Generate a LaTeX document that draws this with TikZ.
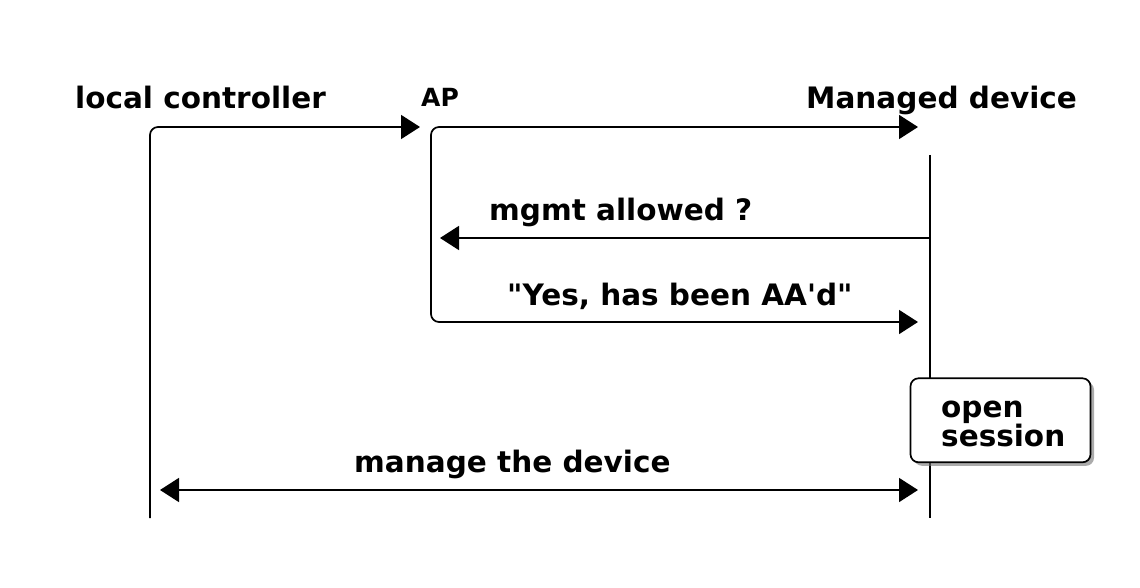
\documentclass[tikz,border=0pt]{standalone}
\usepackage{fontspec}
\newfontfamily\lblfont{DejaVu Sans}
\usetikzlibrary{arrows.meta,shadows}
\tikzset{
  lbl/.style={font=\lblfont\bfseries\fontsize{29.5}{32}\selectfont, inner sep=0pt, anchor=base west},
  smalllbl/.style={font=\lblfont\bfseries\fontsize{25}{28}\selectfont, inner sep=0pt, anchor=base west},
  tip/.tip={Triangle[length=19pt,width=24pt]},
  wire/.style={line width=1.7pt, line join=round},
  msg/.style={wire, -tip},
  msgboth/.style={wire, tip-tip},
  notebox/.style={draw, line width=1.7pt, fill=white, rounded corners=8pt,
    minimum width=180pt, minimum height=84pt, inner sep=0pt,
    drop shadow={shadow xshift=3.5pt, shadow yshift=-3.5pt, opacity=0.6, fill=black!55}}
}
\begin{document}
\begin{tikzpicture}[x=1pt,y=-1pt]
\useasboundingbox[fill=white] (0,0) rectangle (1140,588);
% participant labels
\node[lbl] (lc) at (75,109) {local controller};
\node[smalllbl] (ap) at (421,107) {AP};
\node[lbl] (md) at (806,109) {Managed device};
% coordinates
\coordinate (lcBot) at (150,518);
\coordinate (lcTop) at (150,127);
\coordinate (apIn) at (420,127);
\coordinate (mdIn1) at (918,127);
\coordinate (apTop) at (431,127);
\coordinate (apBot) at (431,322);
\coordinate (mdIn2) at (918,322);
\coordinate (mdTop) at (930,155);
\coordinate (mdBot) at (930,518);
\coordinate (mdQ) at (930,238);
\coordinate (apQ) at (440,238);
\coordinate (lcM) at (160,490);
\coordinate (mdM) at (918,490);
% lifelines and messages
\draw[msg, rounded corners=8pt] (lcBot) -- (lcTop) -- (apIn);
\draw[msgboth, rounded corners=8pt] (mdIn1) -- (apTop) -- (apBot) -- (mdIn2);
\draw[wire] (mdTop) -- (mdBot);
\draw[msg] (mdQ) -- (apQ);
\draw[msgboth] (lcM) -- (mdM);
% message labels
\node[lbl] (q) at (489,220) {mgmt allowed ?};
\node[lbl] (y) at (507,305) {"Yes, has been AA'd"};
\node[lbl] (m) at (354,472) {manage the device};
% note
\node[notebox] (os) at (1000.5,420.3) {};
\node[lbl] (os1) at (941,417) {open};
\node[lbl] (os2) at (941,446) {session};
\end{tikzpicture}
\end{document}
